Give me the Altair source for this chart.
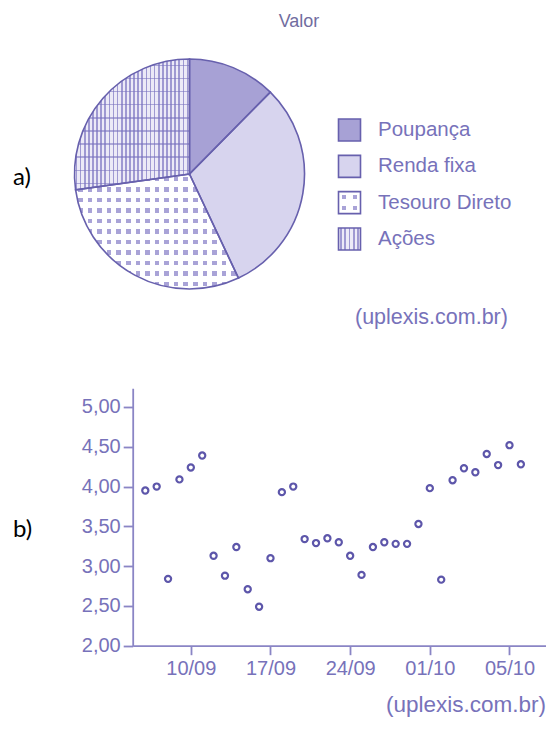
import altair as alt
import pandas as pd

# ---------------- data ----------------
pie_cats = ["Poupança", "Renda fixa", "Tesouro Direto", "Ações"]
pie_vals = [12.4, 30.6, 29.8, 27.2]
pie_order = [0, 1, 2, 3]

day_index = list(range(34))
rates = [3.95, 4.00, 2.84, 4.09, 4.24, 4.39, 3.13, 2.88, 3.24, 2.71,
         2.49, 3.10, 3.93, 4.00, 3.34, 3.29, 3.35, 3.30, 3.13, 2.89,
         3.24, 3.30, 3.28, 3.28, 3.53, 3.98, 2.83, 4.08, 4.23, 4.18,
         4.41, 4.27, 4.52, 4.28]
x_tick_idx = [4, 11, 18, 25, 32]
x_tick_labels = ["10/09", "17/09", "24/09", "01/10", "05/10"]
y_ticks = [2.0, 2.5, 3.0, 3.5, 4.0, 4.5, 5.0]

# ---------------- style ----------------
FONT = "Liberation Sans"
STROKE = "#6760ad"
AXIS = "#8a85c5"
LABEL = "#7772ba"
POINT = "#5d56aa"
TITLE = "#716d9f"
fills = ["#a7a1d5", "#d7d4ee", "#a9a3d7", "#eceaf7"]
CLEAR = "rgba(255,255,255,0)"

W, H = 538, 700


def bands(n, frac, color, bg, across_x=True):
    stops = []
    for i in range(n):
        a = i / n
        s = (i + (1 - frac) / 2) / n
        e = (i + (1 + frac) / 2) / n
        b = (i + 1) / n
        for off, col in [(a, bg), (s, bg), (s, color), (e, color), (e, bg), (b, bg)]:
            stops.append(alt.GradientStop(offset=round(off, 5), color=col))
    if across_x:
        return alt.LinearGradient(gradient="linear", stops=stops, x1=0, x2=1, y1=0, y2=0)
    return alt.LinearGradient(gradient="linear", stops=stops, x1=0, x2=0, y1=0, y2=1)


def only(cat):
    return alt.when(alt.datum.cat == cat).then(alt.value(1)).otherwise(alt.value(0))


pie_df = pd.DataFrame({"cat": pie_cats, "val": pie_vals, "ord": pie_order})
fill_scale = alt.Scale(domain=pie_cats, range=fills)

# ---------------- pie ----------------
R = 115
pie_base = alt.Chart(pie_df).encode(
    theta=alt.Theta("val:Q", stack=True),
    order=alt.Order("ord:Q"),
    x=alt.value(181.5),
    y=alt.value(166),
)
pie_layers = [
    pie_base.mark_arc(radius=R, strokeWidth=0).encode(
        fill=alt.Fill("cat:N", scale=fill_scale, legend=None)),
    pie_base.mark_arc(radius=R, strokeWidth=0,
                      fill=bands(28, 0.4, "#9f99d2", CLEAR, True)).encode(fillOpacity=only("Ações")),
    pie_base.mark_arc(radius=R, strokeWidth=0,
                      fill=bands(10, 0.1, "rgba(120,113,190,0.55)", CLEAR, False)).encode(fillOpacity=only("Ações")),
    pie_base.mark_arc(radius=R, strokeWidth=0,
                      fill=bands(17, 0.48, CLEAR, "white", True)).encode(fillOpacity=only("Tesouro Direto")),
    pie_base.mark_arc(radius=R, strokeWidth=0,
                      fill=bands(11, 0.42, CLEAR, "white", False)).encode(fillOpacity=only("Tesouro Direto")),
    pie_base.mark_arc(radius=R, fillOpacity=0, stroke=STROKE, strokeWidth=1.6),
]

# ---------------- legend ----------------
SQ = 484
leg_base = alt.Chart(pie_df).encode(
    y=alt.Y("cat:N", scale=alt.Scale(type="point", domain=pie_cats, range=[122, 231], padding=0),
            axis=None),
    x=alt.value(341.5),
)
legend_layers = [
    leg_base.mark_square(size=SQ, strokeWidth=0, opacity=1).encode(
        fill=alt.Fill("cat:N", scale=fill_scale, legend=None)),
    leg_base.mark_square(size=SQ, strokeWidth=0, opacity=1,
                         fill=bands(5, 0.4, "#9f99d2", CLEAR, True)).encode(fillOpacity=only("Ações")),
    leg_base.mark_square(size=SQ, strokeWidth=0, opacity=1,
                         fill=bands(2, 0.45, CLEAR, "white", True)).encode(fillOpacity=only("Tesouro Direto")),
    leg_base.mark_square(size=SQ, strokeWidth=0, opacity=1,
                         fill=bands(2, 0.4, CLEAR, "white", False)).encode(fillOpacity=only("Tesouro Direto")),
    leg_base.mark_square(size=SQ, fillOpacity=0, opacity=1, stroke=STROKE, strokeWidth=1.6),
    leg_base.mark_text(align="left", baseline="middle", font=FONT, fontSize=20.5, color=LABEL).encode(
        text="cat:N", x=alt.value(370)),
]

# ---------------- scatter ----------------
X0, XW = 124.7, 11.381          # y-axis position and pixels per day
x_dom = [-1.107, -1.107 + (W - X0) / XW]
sc_df = pd.DataFrame({"idx": day_index, "rate": rates})
lab_expr = "[" + ",".join("'%s'" % s for s in x_tick_labels) + "][indexof([" + \
    ",".join(str(v) for v in x_tick_idx) + "], datum.value)]"
scatter = alt.Chart(sc_df).mark_point(
    shape="circle", filled=False, size=38, strokeWidth=2.2, color=POINT, opacity=1
).encode(
    x=alt.X("idx:Q",
            scale=alt.Scale(domain=x_dom, range=[X0, W], nice=False, zero=False),
            axis=alt.Axis(values=x_tick_idx, labelExpr=lab_expr, offset=637.7 - H, grid=False,
                          title=None, domainColor=AXIS, tickColor=AXIS, domainWidth=1.8, tickWidth=1.8,
                          tickSize=9, labelColor=LABEL, labelFont=FONT, labelFontSize=20,
                          labelPadding=4, labelFlush=False, labelOverlap=False)),
    y=alt.Y("rate:Q",
            scale=alt.Scale(domain=[2, 5.235], range=[637.7, 380.3], nice=False, zero=False),
            axis=alt.Axis(values=y_ticks, labelExpr="replace(format(datum.value, '.2f'), '.', ',')",
                          offset=-X0, grid=False, title=None, domainColor=AXIS, tickColor=AXIS,
                          domainWidth=1.8, tickWidth=1.8, tickSize=9.5, labelColor=LABEL,
                          labelFont=FONT, labelFontSize=20, labelPadding=3, labelFlush=False,
                          labelOverlap=False)),
)


# ---------------- annotations ----------------
def note(text, x, y, size, color, font=FONT, align="left"):
    return alt.Chart(pd.DataFrame({"t": [text]})).mark_text(
        align=align, baseline="middle", font=font, fontSize=size, color=color
    ).encode(text="t:N", x=alt.value(x), y=alt.value(y))


notes = [
    note("Valor", 291, 14, 18, TITLE, align="center"),
    note("a)", 5, 170, 24, "#000000", font="Lato"),
    note("b)", 5, 522, 24, "#000000", font="Lato"),
    note("(uplexis.com.br)", 347, 310, 21.5, LABEL),
    note("(uplexis.com.br)", W, 697, 22.5, LABEL, align="right"),
]

chart = alt.layer(*pie_layers, *legend_layers, scatter, *notes).resolve_scale(
    y="independent"
).properties(width=W, height=H, padding=0).configure_view(strokeWidth=0)

chart.save("out.html", embed_options={"renderer": "svg", "actions": False})
